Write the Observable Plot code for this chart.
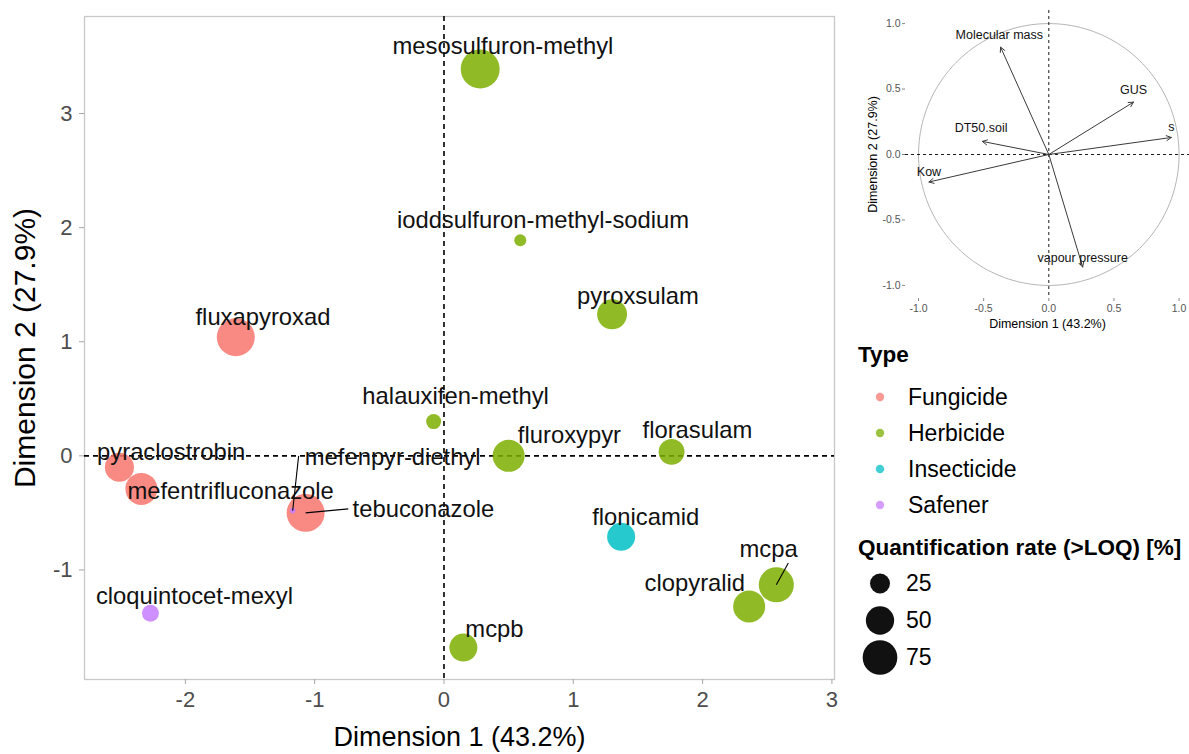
<!DOCTYPE html>
<html>
<head>
<meta charset="utf-8">
<script src="https://cdn.jsdelivr.net/npm/d3@7"></script>
<script src="https://cdn.jsdelivr.net/npm/@observablehq/plot@0.6"></script>
<style>
  html, body { margin: 0; padding: 0; background: #fff; }
  body { width: 1189px; height: 754px; position: relative; overflow: hidden;
         font-family: "Liberation Sans", Arial, sans-serif; color: #000; }
  #main { position: absolute; left: 0; top: 0; }
  #inset { position: absolute; left: 850px; top: 0; }
  #legend { position: absolute; left: 858px; top: 342px; width: 330px; }
  .ltitle { font-weight: bold; font-size: 22.5px; line-height: 26px; white-space: nowrap; }
  .lrow { display: flex; align-items: center; font-size: 23px; }
  .lrow svg { flex: none; display: block; }
</style>
</head>
<body>
<div id="main"></div>
<div id="inset"></div>
<div id="legend"></div>
<script>
// ---- PCA individuals (active substances) ----
const substances = [
  "mesosulfuron-methyl", "ioddsulfuron-methyl-sodium", "pyroxsulam", "fluxapyroxad",
  "halauxifen-methyl", "fluroxypyr", "florasulam", "pyraclostrobin",
  "mefentrifluconazole", "mefenpyr-diethyl", "tebuconazole", "flonicamid",
  "mcpa", "clopyralid", "mcpb", "cloquintocet-mexyl"
];
const dim1 = [0.28, 0.59, 1.30, -1.61, -0.08, 0.50, 1.76, -2.51, -2.34, -1.17, -1.07, 1.37, 2.57, 2.36, 0.15, -2.27];
const dim2 = [3.39, 1.89, 1.24, 1.04, 0.30, 0.00, 0.035, -0.10, -0.29, -0.48, -0.50, -0.71, -1.13, -1.32, -1.68, -1.38];
const substanceType = [
  "Herbicide", "Herbicide", "Herbicide", "Fungicide",
  "Herbicide", "Herbicide", "Herbicide", "Fungicide",
  "Fungicide", "Safener", "Fungicide", "Insecticide",
  "Herbicide", "Herbicide", "Herbicide", "Safener"
];
const quantRate = [95, 9, 56, 90, 14, 64, 42, 53, 64, 2, 90, 49, 77, 64, 49, 18];

// ---- legend categories and ticks ----
const typeNames = ["Fungicide", "Herbicide", "Insecticide", "Safener"];
const typeColors = ["#F8766D", "#7CAE00", "#00BFC4", "#C77CFF"];
const rateKeys = [25, 50, 75];
const xTicks = [-2, -1, 0, 1, 2, 3];
const yTicks = [-1, 0, 1, 2, 3];

// ---- PCA variables (correlation circle) ----
const variables = ["Molecular mass", "GUS", "s", "DT50.soil", "Kow", "vapour pressure"];
const varDim1 = [-0.37, 0.65, 0.94, -0.51, -0.92, 0.26];
const varDim2 = [0.82, 0.40, 0.13, 0.10, -0.21, -0.86];
const circleTicks = [-1.0, -0.5, 0.0, 0.5, 1.0];

const rows = substances.map((name, i) => ({
  name, x: dim1[i], y: dim2[i], type: substanceType[i], rate: quantRate[i]
}));

// label placement relative to each point (data units); "lead" draws a connector
const labelPlace = {
  "mesosulfuron-methyl": {dx: 0.176, dy: 0.20},
  "ioddsulfuron-methyl-sodium": {dx: 0.176, dy: 0.17},
  "pyroxsulam": {dx: 0.20, dy: 0.16},
  "fluxapyroxad": {dx: 0.21, dy: 0.17},
  "halauxifen-methyl": {dx: 0.17, dy: 0.22},
  "fluroxypyr": {dx: 0.47, dy: 0.18},
  "florasulam": {dx: 0.20, dy: 0.185},
  "pyraclostrobin": {dx: 0.40, dy: 0.13},
  "mefentrifluconazole": {dx: 0.69, dy: -0.02},
  "mefenpyr-diethyl": {dx: 0.07, dy: 0.47, start: true, lead: [0.046, 0.48]},
  "tebuconazole": {dx: 0.34, dy: 0.03, start: true, lead: [0.33, 0.035]},
  "flonicamid": {dx: 0.19, dy: 0.17},
  "mcpa": {dx: -0.06, dy: 0.31, lead: [0.093, 0.19]},
  "clopyralid": {dx: -0.42, dy: 0.20},
  "mcpb": {dx: 0.24, dy: 0.16},
  "cloquintocet-mexyl": {dx: 0.34, dy: 0.15}
};
const lx = d => d.x + labelPlace[d.name].dx;
const ly = d => d.y + labelPlace[d.name].dy;
const leaders = rows.filter(d => labelPlace[d.name].lead);
const bySizeDesc = rows.slice().sort((a, b) => b.rate - a.rate);

const font = "'Liberation Sans', Arial, sans-serif";
const dashed = {stroke: "#000", strokeWidth: 1.6, strokeDasharray: "5,4"};

const main = Plot.plot({
  width: 845, height: 754,
  marginLeft: 84, marginRight: 11, marginTop: 16, marginBottom: 75,
  style: {fontFamily: font, background: "#fff", overflow: "visible"},
  x: {domain: [-2.78, 3.02]},
  y: {domain: [-1.96, 3.85]},
  r: {type: "sqrt", domain: [0, 100], range: [0, 20]},
  color: {domain: typeNames, range: typeColors},
  marks: [
    Plot.frame({stroke: "#c8c8c8", strokeWidth: 1.3}),
    Plot.axisX({ticks: xTicks, tickFormat: d => String(d), tickSize: 5, tickPadding: 7,
      fontSize: 22, fill: "#4d4d4d", stroke: "#a6a6a6", label: null}),
    Plot.axisY({ticks: yTicks, tickFormat: d => String(d), tickSize: 5, tickPadding: 7,
      fontSize: 22, fill: "#4d4d4d", stroke: "#a6a6a6", label: null}),
    Plot.ruleX([0], dashed),
    Plot.ruleY([0], dashed),
    Plot.dot(bySizeDesc, {x: "x", y: "y", r: "rate", fill: "type", fillOpacity: 0.85}),
    Plot.link(leaders, {
      x1: "x", y1: "y",
      x2: d => d.x + labelPlace[d.name].lead[0],
      y2: d => d.y + labelPlace[d.name].lead[1],
      stroke: "#000", strokeWidth: 1.1
    }),
    Plot.text(rows.filter(d => !labelPlace[d.name].start), {
      x: lx, y: ly, text: "name", fontSize: 23.8, fill: "#111"
    }),
    Plot.text(rows.filter(d => labelPlace[d.name].start), {
      x: lx, y: ly, text: "name", fontSize: 23.8, fill: "#111", textAnchor: "start", dx: 3
    }),
    Plot.text(["Dimension 1 (43.2%)"], {text: d => d, frameAnchor: "bottom", dy: 58,
      lineAnchor: "middle", textAnchor: "middle", fontSize: 27}),
    Plot.text(["Dimension 2 (27.9%)"], {text: d => d, frameAnchor: "left", dx: -59, rotate: -90,
      lineAnchor: "middle", textAnchor: "middle", fontSize: 30})
  ]
});
main.style.display = "block";
document.getElementById("main").appendChild(main);

// ---- correlation circle ----
const vars = variables.map((name, i) => ({name, x: varDim1[i], y: varDim2[i]}));
const varLabel = {
  "Molecular mass": [-0.01, 0.09],
  "GUS": [0.0, 0.09],
  "s": [0.0, 0.08],
  "DT50.soil": [-0.01, 0.10],
  "Kow": [0.0, 0.08],
  "vapour pressure": [0.0, 0.07]
};
const unitCircle = d3.range(0, 361, 2).map(a => [Math.cos(a * Math.PI / 180), Math.sin(a * Math.PI / 180)]);
const thinDash = {stroke: "#000", strokeWidth: 0.9, strokeDasharray: "3,3"};

const inset = Plot.plot({
  width: 339, height: 335,
  marginLeft: 55, marginRight: 0, marginTop: 10, marginBottom: 37,
  style: {fontFamily: font, background: "#fff", overflow: "visible"},
  x: {domain: [-1.1, 1.08]},
  y: {domain: [-1.1, 1.1]},
  marks: [
    Plot.axisX({ticks: circleTicks, tickFormat: d => d.toFixed(1), tickSize: 3, tickPadding: 3,
      fontSize: 10.5, fill: "#555", stroke: "#888", label: null}),
    Plot.axisY({ticks: circleTicks, tickFormat: d => d.toFixed(1), tickSize: 3, tickPadding: 2,
      fontSize: 10.5, fill: "#555", stroke: "#888", label: null}),
    Plot.line(unitCircle, {x: d => d[0], y: d => d[1], stroke: "#b5b5b5", strokeWidth: 1}),
    Plot.ruleX([0], thinDash),
    Plot.ruleY([0], thinDash),
    Plot.arrow(vars, {x1: 0, y1: 0, x2: "x", y2: "y", stroke: "#3a3a3a", strokeWidth: 1,
      headLength: 8, headAngle: 55}),
    Plot.text(vars, {x: d => d.x + varLabel[d.name][0], y: d => d.y + varLabel[d.name][1],
      text: "name", fontSize: 12.5, fill: "#111"}),
    Plot.text(["Dimension 1 (43.2%)"], {text: d => d, frameAnchor: "bottom", dy: 25,
      lineAnchor: "middle", textAnchor: "middle", fontSize: 12.5}),
    Plot.text(["Dimension 2 (27.9%)"], {text: d => d, frameAnchor: "left", dx: -33, rotate: -90,
      lineAnchor: "middle", textAnchor: "middle", fontSize: 12.5})
  ]
});
inset.style.display = "block";
document.getElementById("inset").appendChild(inset);

// ---- legends built from the main chart's scales ----
const colorScale = main.scale("color");
const rScale = main.scale("r");
const legend = document.getElementById("legend");
let html = `<div class="ltitle">Type</div><div style="height:11px"></div>`;
for (const t of typeNames) {
  html += `<div class="lrow" style="height:36px"><svg width="50" height="36">
    <circle cx="22" cy="18" r="4.2" fill="${colorScale.apply(t)}" fill-opacity="0.75"></circle></svg>
    <span>${t}</span></div>`;
}
html += `<div style="height:12px"></div><div class="ltitle">Quantification rate (&gt;LOQ) [%]</div><div style="height:3.5px"></div>`;
for (const v of rateKeys) {
  html += `<div class="lrow" style="height:37px"><svg width="48" height="37">
    <circle cx="22" cy="18.5" r="${rScale.apply(v)}" fill="#111"></circle></svg>
    <span>${v}</span></div>`;
}
legend.innerHTML = html;
</script>
</body>
</html>
